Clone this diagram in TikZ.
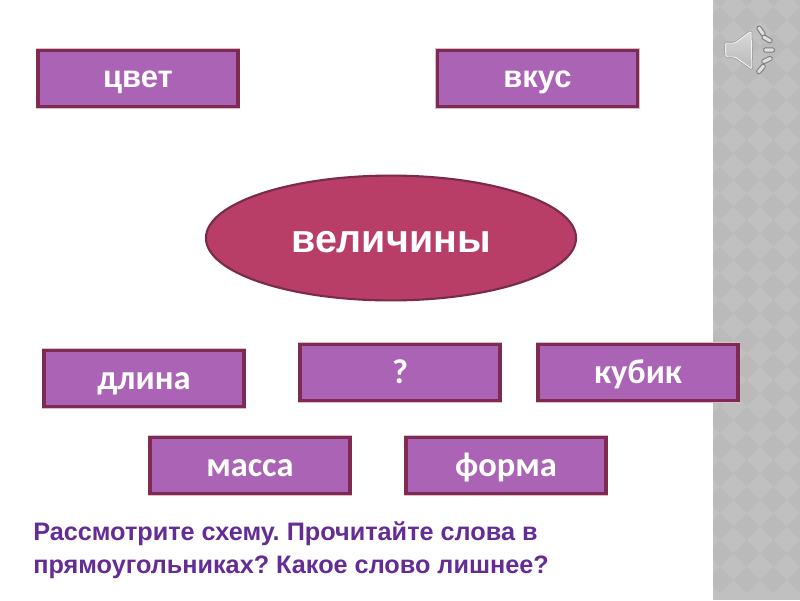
\documentclass[tikz,border=0pt]{standalone}
\usepackage{fontspec}
\setmainfont{Liberation Sans}
\newfontfamily\lowerfont{Carlito}
\usetikzlibrary{positioning, shapes.geometric}
\definecolor{boxfill}{HTML}{AB63B5}
\definecolor{boxline}{HTML}{7F2A50}
\definecolor{ovalfill}{HTML}{B83D67}
\definecolor{ovalline}{HTML}{7A2A4C}
\definecolor{asktext}{HTML}{642C94}
\definecolor{stripfill}{HTML}{C0C0C0}
\definecolor{stripdark}{HTML}{BABABA}
\tikzset{
    wordbox/.style={preaction={draw=boxline!30,line width=3.2pt},draw=boxline,line width=2.2pt,fill=boxfill,text=white,minimum width=5.0cm,minimum height=1.4cm,inner sep=0pt,text height=13.5pt,text depth=0pt,font=\bfseries\fontsize{22}{24}\selectfont},
    lowerbox/.style={wordbox,text height=16pt,font=\lowerfont\bfseries\fontsize{24.5}{27}\selectfont},
    bigoval/.style={ellipse,draw=ovalline,line width=1.5pt,fill=ovalfill,text=white,minimum width=9.25cm,minimum height=3.12cm,inner sep=0pt,text height=20pt,text depth=0pt,font=\bfseries\fontsize{28}{30}\selectfont},
    bar/.style={draw=black!50,line width=.7pt,fill=white!75!gray,rounded corners=1.5pt}
}
\begin{document}
\begin{tikzpicture}[x=0.025cm,y=-0.025cm]
    \useasboundingbox (0,0) rectangle (800,600);
    \fill[white] (0,0) rectangle (800,600);
    \fill[stripfill] (713,0) rectangle (800,600); %полоса справа
    \begin{scope}
        \clip (713,0) rectangle (800,600);
        \foreach \i in {0,...,3}
            \foreach \j in {0,...,22}
                \fill[stripdark] ({706.7+26.67*\i},{-6.7+26.67*\j}) --++(13.3,-13.3) --++(13.3,13.3) --++(-13.3,13.3) --cycle;
    \end{scope}
    \draw[preaction={draw=black!45,line width=1.5pt},white!90!gray,line width=.7pt,top color=gray!30,bottom color=gray!55,rounded corners=1pt] (725,43) --(735,43) --(751,31) --(752,69) --(735,57) --(726,57) --cycle; %динамик
    \draw[bar,rotate around={-55:(761,31)}] (755.5,28.8) rectangle (766.5,33.2);
    \draw[bar,rotate around={-30:(767,39)}] (761.5,36.8) rectangle (772.5,41.2);
    \draw[bar,rotate around={0:(769,50)}] (763.5,47.8) rectangle (774.5,52.2);
    \draw[bar,rotate around={25:(767,60)}] (761.5,57.8) rectangle (772.5,62.2);
    \draw[bar,rotate around={50:(761,69)}] (755.5,66.8) rectangle (766.5,71.2);
    \node[wordbox] (color) at (138,78.5) {цвет};
    \node[wordbox] (taste) at (537.5,78.5) {вкус};
    \node[bigoval] (quantity) at (391,238) {величины};
    \node[lowerbox] (length) at (144,378.5) {длина};
    \node[lowerbox] (unknown) at (400,372.5) {?};
    \node[lowerbox] (cube) at (638,372.5) {кубик};
    \node[lowerbox] (mass) at (250,465.5) {масса};
    \node[lowerbox] (shape) at (506,465.5) {форма};
    \node[anchor=north west,align=left,inner sep=0pt,text=asktext,font=\bfseries\fontsize{17.95}{23.5}\selectfont\frenchspacing] (task) at (33,521) {Рассмотрите схему. Прочитайте слова в\\прямоугольниках? Какое слово лишнее?};
\end{tikzpicture}
\end{document}
